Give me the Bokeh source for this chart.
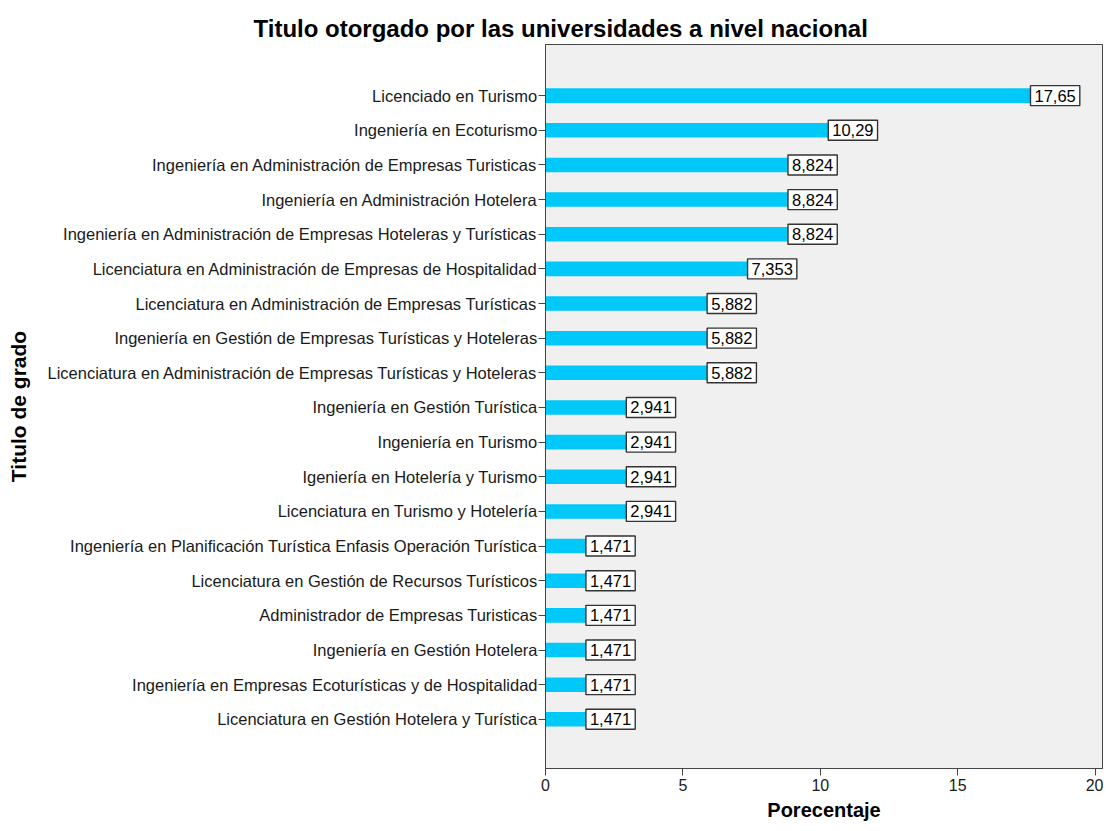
from bokeh.plotting import figure
from bokeh.models import ColumnDataSource, Range1d, FixedTicker
from bokeh.core.properties import value
from bokeh.embed import file_html
from bokeh.resources import INLINE

categories = [
    "Licenciado en Turismo",
    "Ingeniería en Ecoturismo",
    "Ingeniería en Administración de Empresas Turisticas",
    "Ingeniería en Administración Hotelera",
    "Ingeniería en Administración de Empresas Hoteleras y Turísticas",
    "Licenciatura en Administración de Empresas de Hospitalidad",
    "Licenciatura en Administración de Empresas Turísticas",
    "Ingeniería en Gestión de Empresas Turísticas y Hoteleras",
    "Licenciatura en Administración de Empresas Turísticas y Hoteleras",
    "Ingeniería en Gestión Turística",
    "Ingeniería en Turismo",
    "Igeniería en Hotelería y Turismo",
    "Licenciatura en Turismo y Hotelería",
    "Ingeniería en Planificación Turística Enfasis Operación Turística",
    "Licenciatura en Gestión de Recursos Turísticos",
    "Administrador de Empresas Turisticas",
    "Ingeniería en Gestión Hotelera",
    "Ingeniería en Empresas Ecoturísticas y de Hospitalidad",
    "Licenciatura en Gestión Hotelera y Turística",
]
percentages = [17.65, 10.29, 8.824, 8.824, 8.824, 7.353, 5.882, 5.882, 5.882,
               2.941, 2.941, 2.941, 2.941, 1.471, 1.471, 1.471, 1.471, 1.471, 1.471]
x_ticks = [0, 5, 10, 15, 20]

FONT = "Liberation Sans"
n = len(categories)
idx = list(range(n))
labels = [f"{v:.4g}".replace(".", ",") for v in percentages]

src = ColumnDataSource(dict(y=idx, v=percentages, lab=labels))

p = figure(width=1103, height=823, output_backend="svg", toolbar_location=None,
           x_range=Range1d(0, 20.27), y_range=Range1d(n - 1 + 1.42, -1.476),
           min_border_left=545, min_border_right=1, min_border_top=44,
           min_border_bottom=53)

p.background_fill_color = "#F0F0F0"
p.border_fill_color = "white"
p.outline_line_color = "#444444"
p.outline_line_width = 1
p.xgrid.visible = False
p.ygrid.visible = False

p.hbar(y="y", right="v", left=0, height=0.42, source=src,
       fill_color="#00C8F8", line_color=None)

p.text(x="v", y="y", text="lab", source=src, text_font=value(FONT),
       text_font_size="16.5px", text_color="black", text_baseline="middle",
       text_align="left", x_offset=0,
       background_fill_color="white", border_line_color="#333333",
       border_line_width=1.4, padding=4)

p.title.text = "Titulo otorgado por las universidades a nivel nacional"
p.title.text_font = FONT
p.title.text_font_size = "24px"
p.title.text_font_style = "bold"
p.title.text_color = "black"
p.title.align = "left"
p.title.offset = -292
p.title.standoff = 6

xa = p.xaxis[0]
xa.ticker = FixedTicker(ticks=x_ticks)
xa.axis_label = "Porecentaje"
xa.axis_label_text_font = FONT
xa.axis_label_text_font_size = "20px"
xa.axis_label_text_font_style = "bold"
xa.axis_label_text_color = "black"
xa.major_label_text_font = FONT
xa.major_label_text_font_size = "16px"
xa.major_label_text_color = "#1a1a1a"
xa.major_tick_out = 7
xa.major_tick_in = 0
xa.minor_tick_out = 0
xa.minor_tick_in = 0
xa.axis_line_color = "#444444"
xa.major_tick_line_color = "#444444"
xa.axis_label_standoff = 5
xa.major_label_standoff = 3

ya = p.yaxis[0]
ya.ticker = FixedTicker(ticks=idx)
ya.major_label_overrides = {i: c for i, c in zip(idx, categories)}
ya.axis_label = "Titulo de grado"
ya.axis_label_text_font = FONT
ya.axis_label_text_font_size = "21px"
ya.axis_label_text_font_style = "bold"
ya.axis_label_text_color = "black"
ya.major_label_text_font = FONT
ya.major_label_text_font_size = "16.5px"
ya.major_label_text_color = "#1a1a1a"
ya.major_tick_out = 7
ya.major_tick_in = 0
ya.minor_tick_out = 0
ya.minor_tick_in = 0
ya.axis_line_color = "#444444"
ya.major_tick_line_color = "#444444"
ya.major_label_standoff = 1
ya.axis_label_standoff = 14

open("out.html", "w").write(file_html(p, INLINE))
